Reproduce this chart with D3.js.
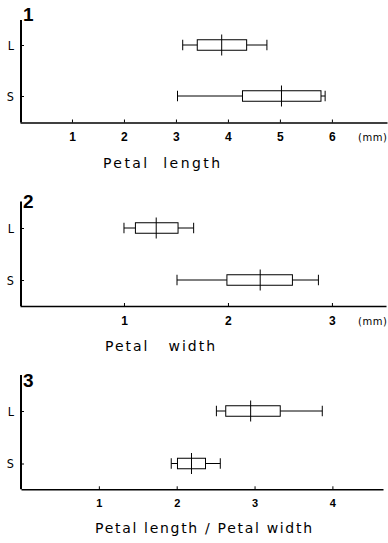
<!DOCTYPE html>
<html><head><meta charset="utf-8">
<script src="https://cdn.jsdelivr.net/npm/d3@7"></script>
<style>
body{margin:0;background:#fff;}
svg{display:block;}
text{white-space:pre;}
</style></head>
<body>
<script>
// ---- data ----
const categories = ["L", "S"];
// box stats: [min, q1, median, q3, max]
const petalLengthL = [3.13, 3.41, 3.88, 4.36, 4.75];
const petalLengthS = [3.03, 4.28, 5.03, 5.79, 5.87];
const petalWidthL  = [1.00, 1.11, 1.31, 1.52, 1.67];
const petalWidthS  = [1.51, 1.99, 2.31, 2.62, 2.87];
const ratioL       = [2.51, 2.63, 2.95, 3.33, 3.87];
const ratioS       = [1.93, 2.01, 2.19, 2.37, 2.56];
const ticks1 = [1, 2, 3, 4, 5, 6];
const ticks2 = [1, 2, 3];
const ticks3 = [1, 2, 3, 4];
const panelLabels = ["1", "2", "3"];
const axisTitles = ["Petal  length", "Petal   width", "Petal length / Petal width"];
const unitLabels = ["(mm)", "(mm)", ""];

// ---- layout ----
const W = 388, H = 543;
const panels = [
  {stats: [petalLengthL, petalLengthS], ticks: ticks1, xdom: [0, 7.06], xr: [20, 387],
   top: 20, axisY: 122.5, yL: 45, yS: 96, tickFs: 12, numBase: 21,
   titleX: 103, titleBase: 168, titleLen: 117, unitBase: 141},
  {stats: [petalWidthL, petalWidthS], ticks: ticks2, xdom: [0, 3.52], xr: [20, 386],
   top: 201.5, axisY: 306, yL: 228, yS: 280, tickFs: 12, numBase: 208,
   titleX: 105, titleBase: 351, titleLen: 110, unitBase: 324.5},
  {stats: [ratioL, ratioS], ticks: ticks3, xdom: [0, 4.65], xr: [21, 383],
   top: 375, axisY: 489.3, yL: 411, yS: 463.5, tickFs: 11, numBase: 387,
   titleX: 95, titleBase: 533, titleLen: 217, unitBase: 0}
];

const svg = d3.select("body").append("svg").attr("width", W).attr("height", H);

panels.forEach((p, i) => {
  const g = svg.append("g");
  const x = d3.scaleLinear().domain(p.xdom).range(p.xr);
  const y = d3.scalePoint().domain(categories).range([p.yL, p.yS]);

  // y axis line
  g.append("line").attr("x1", 21).attr("x2", 21).attr("y1", p.top).attr("y2", p.axisY)
    .attr("stroke", "#000").attr("stroke-width", 2);

  // y axis ticks and labels
  const ya = d3.axisLeft(y).tickSizeInner(-3).tickSizeOuter(0).tickPadding(7);
  const yg = g.append("g").attr("transform", "translate(21,0)").call(ya);
  yg.select(".domain").remove();
  yg.selectAll("line").attr("stroke", "#000").attr("stroke-width", 1);
  yg.selectAll("text").attr("font-family", "'DejaVu Sans Condensed', 'DejaVu Sans'")
    .attr("font-size", 12.5).attr("fill", "#000");

  // x axis
  const xa = d3.axisBottom(x).tickValues(p.ticks).tickFormat(d3.format("d"))
    .tickSizeInner(-3).tickSizeOuter(0).tickPadding(10);
  const xg = g.append("g").attr("transform", `translate(0,${p.axisY})`).call(xa);
  xg.select(".domain").attr("stroke", "#000").attr("stroke-width", 1.6);
  xg.selectAll(".tick line").attr("stroke", "#000").attr("stroke-width", 1);
  xg.selectAll("text").attr("font-family", "'Liberation Sans', Arial, sans-serif")
    .attr("font-weight", "bold").attr("font-size", p.tickFs).attr("fill", "#000");

  // panel number
  g.append("text").attr("x", 23).attr("y", p.numBase).text(panelLabels[i])
    .attr("font-family", "'Liberation Sans', Arial, sans-serif").attr("font-weight", "bold")
    .attr("font-size", 19).attr("fill", "#000");

  // unit
  if (unitLabels[i]) {
    g.append("text").attr("x", 358).attr("y", p.unitBase).text(unitLabels[i])
      .attr("font-family", "'DejaVu Sans', sans-serif").attr("font-size", 10)
      .attr("textLength", 29).attr("lengthAdjust", "spacing").attr("fill", "#000");
  }

  // axis title
  g.append("text").attr("x", p.titleX).attr("y", p.titleBase).text(axisTitles[i])
    .attr("font-family", "'DejaVu Sans', sans-serif").attr("font-size", 14)
    .attr("textLength", p.titleLen).attr("lengthAdjust", "spacing").attr("fill", "#000");

  // boxes
  const boxH = 10.5, medH = 21;
  categories.forEach((c, j) => {
    const s = p.stats[j];
    const cy = y(c);
    const bg = g.append("g").attr("fill", "none").attr("stroke", "#000").attr("stroke-width", 1);
    bg.append("line").attr("x1", x(s[0])).attr("x2", x(s[4])).attr("y1", cy).attr("y2", cy);
    bg.append("line").attr("x1", x(s[0])).attr("x2", x(s[0])).attr("y1", cy - boxH / 2).attr("y2", cy + boxH / 2);
    bg.append("line").attr("x1", x(s[4])).attr("x2", x(s[4])).attr("y1", cy - boxH / 2).attr("y2", cy + boxH / 2);
    bg.append("rect").attr("x", x(s[1])).attr("y", cy - boxH / 2)
      .attr("width", x(s[3]) - x(s[1])).attr("height", boxH).attr("fill", "#fff");
    bg.append("line").attr("x1", x(s[2])).attr("x2", x(s[2])).attr("y1", cy - medH / 2).attr("y2", cy + medH / 2);
  });
});
</script>
</body></html>
